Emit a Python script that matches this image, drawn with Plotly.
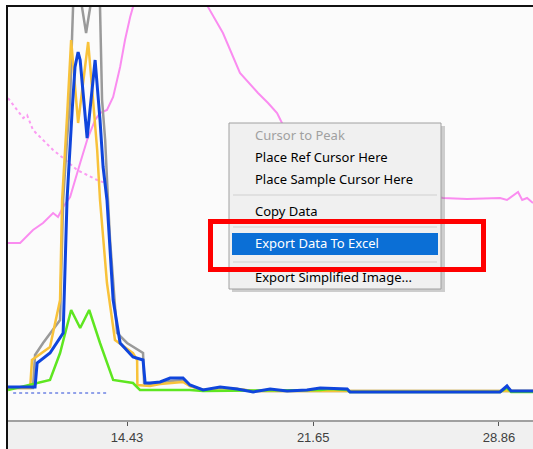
import plotly.graph_objects as go

# ---- data (x in minutes, y in signal units) ----
tick_vals = [14.43, 21.65, 28.86]
tick_text = ["14.43", "21.65", "28.86"]

gray_x = [9.81, 10.78, 10.86, 11.17, 11.83, 11.95, 12.10, 12.22, 12.30, 12.37, 12.61, 12.68, 12.84, 13.00, 13.19, 13.38, 13.46, 13.58, 13.69, 13.77, 14.04, 14.43, 15.05, 15.09, 15.32, 16.10, 16.60, 16.87, 17.38, 18.04, 18.70, 19.32, 30.18]
gray_y = [2, 2, 35, 47, 70, 190, 250, 290, 357, 410, 430, 383, 357, 383, 430, 383, 290, 250, 190, 150, 57, 47, 37, 7, 6, 9, 10, 4, 0, 2, 1, -1, -1]

orange_x = [9.81, 10.67, 10.74, 11.44, 11.83, 11.91, 12.10, 12.22, 12.26, 12.53, 12.92, 13.11, 13.27, 13.38, 13.65, 13.96, 14.66, 14.82, 14.83, 15.32, 15.71, 16.60, 16.87, 17.38, 18.04, 18.70, 19.32, 30.18]
orange_y = [2, 2, 30, 43, 90, 190, 273, 340, 350, 267, 348, 290, 240, 190, 107, 50, 37, 30, 5, 4, 6, 8, 4, 0, 2, 1, -1, -1]

green_x = [9.81, 10.94, 11.44, 11.83, 12.26, 12.61, 12.96, 13.38, 13.89, 14.66, 14.93, 16.87, 17.38, 21.92, 22.30, 22.97, 23.08, 28.90, 29.17, 29.33, 30.18]
green_y = [0, 7, 10, 37, 80, 62, 80, 47, 10, 7, 0, 0, -1, 0, 1, 0, -2, -2, 2, -2, -2]

blue_x = [9.81, 10.86, 10.94, 11.44, 11.95, 12.10, 12.30, 12.41, 12.53, 12.61, 12.88, 13.19, 13.38, 13.50, 13.65, 13.89, 14.16, 14.66, 15.05, 15.13, 15.32, 15.71, 16.10, 16.60, 16.87, 17.38, 18.04, 18.70, 19.32, 19.98, 20.64, 21.41, 21.92, 22.97, 23.08, 28.90, 29.17, 29.33, 30.18]
blue_y = [3, 3, 27, 37, 57, 190, 280, 323, 338, 330, 252, 330, 270, 223, 190, 90, 47, 33, 30, 7, 7, 8, 12, 12, 5, 0, 3, 1, -2, 1, -1, 0, 2, 1, -2, -2, 4, -1, -1]

pink_x = [9.81, 10.28, 10.78, 11.17, 11.56, 11.75, 11.95, 12.22, 12.61, 12.88, 13.19, 13.38, 13.65, 13.89, 14.16, 14.35, 14.55, 14.66, 14.93, 17.26, 17.57, 18.15, 18.81, 19.51, 19.90, 20.25, 20.44, 21.14, 23.08, 25.02, 26.69, 27.62, 28.90, 29.17, 29.60, 29.76, 29.95, 30.18]
pink_y = [147, 147, 160, 167, 177, 173, 183, 193, 227, 250, 270, 277, 280, 293, 323, 350, 373, 383, 420, 420, 383, 357, 317, 297, 287, 277, 267, 240, 215, 200, 192, 191, 192, 190, 198, 190, 192, 187]

pinkdot_x = [9.81, 10.16, 10.40, 10.55, 10.78, 11.17, 11.56, 11.95, 12.49, 12.88, 13.27, 13.58]
pinkdot_y = [292, 280, 272, 275, 260, 250, 240, 232, 220, 215, 210, 207]

base_x = [10.01, 13.65]
base_y = [-3, -3]

menu_items = ["Cursor to Peak", "Place Ref Cursor Here", "Place Sample Cursor Here",
              "Copy Data", "Export Data To Excel", "Export Simplified Image..."]

# ---- figure ----
W, H = 533, 449
L, R, T, B = 8, 0, 7, 29
PW, PH = W - L - R, H - T - B
X_RANGE = [9.81, 30.18]


def px(x):
    return (x - L) / PW


def py(y):
    return (H - B - y) / PH


fig = go.Figure()
fig.add_trace(go.Scatter(x=pinkdot_x, y=pinkdot_y, mode="lines",
                         line=dict(color="#fb9bf2", width=2, dash="dot")))
fig.add_trace(go.Scatter(x=pink_x, y=pink_y, mode="lines",
                         line=dict(color="#fa8cf0", width=2)))
fig.add_trace(go.Scatter(x=gray_x, y=gray_y, mode="lines",
                         line=dict(color="#9a9a9a", width=2.5)))
fig.add_trace(go.Scatter(x=orange_x, y=orange_y, mode="lines",
                         line=dict(color="#f8c23a", width=2.5)))
fig.add_trace(go.Scatter(x=green_x, y=green_y, mode="lines",
                         line=dict(color="#5ee620", width=2.5)))
fig.add_trace(go.Scatter(x=blue_x, y=blue_y, mode="lines",
                         line=dict(color="#0f45dc", width=3)))
fig.add_trace(go.Scatter(x=base_x, y=base_y, mode="lines",
                         line=dict(color="#2848d8", width=1, dash="3px,3px")))
# invisible helper trace so the top frame axis is drawn
fig.add_trace(go.Scatter(x=base_x, y=base_y, mode="lines", xaxis="x2",
                         line=dict(color="rgba(0,0,0,0)", width=0), hoverinfo="skip"))

shapes = []
# bottom axis strip
shapes.append(dict(type="rect", xref="paper", yref="paper", x0=0, x1=1,
                   y0=py(H), y1=py(421), fillcolor="#f0f0f0", line_width=0, layer="below"))
# black frame continuation on the left of the axis strip
shapes.append(dict(type="line", xref="paper", yref="paper", x0=px(7), x1=px(7),
                   y0=py(H), y1=py(419), line=dict(color="#111111", width=2), layer="above"))
# menu shadow
shapes.append(dict(type="rect", xref="paper", yref="paper", x0=px(232), x1=px(445),
                   y0=py(292), y1=py(126), fillcolor="rgba(120,120,120,0.35)", line_width=0, layer="above"))
# menu body
shapes.append(dict(type="rect", xref="paper", yref="paper", x0=px(229), x1=px(441),
                   y0=py(289), y1=py(123), fillcolor="#f0f0f0",
                   line=dict(color="#a0a0a0", width=1), layer="above"))
# separators
for sy in (195, 227, 262):
    shapes.append(dict(type="line", xref="paper", yref="paper", x0=px(233), x1=px(437),
                       y0=py(sy), y1=py(sy), line=dict(color="#d0d0d0", width=1), layer="above"))
# highlight
shapes.append(dict(type="rect", xref="paper", yref="paper", x0=px(232), x1=px(438),
                   y0=py(255), y1=py(233), fillcolor="#0b6fd6", line_width=0, layer="above"))
# red box
shapes.append(dict(type="rect", xref="paper", yref="paper", x0=px(210.5), x1=px(483.5),
                   y0=py(269.5), y1=py(221.5), fillcolor="rgba(0,0,0,0)",
                   line=dict(color="#ff0000", width=5), layer="above"))

item_y = [135, 157, 179, 211, 243, 277]
item_col = ["#a0a0a0", "#000000", "#000000", "#000000", "#ffffff", "#000000"]
annotations = []
for t, yy, c in zip(menu_items, item_y, item_col):
    annotations.append(dict(text=t, xref="paper", yref="paper", x=px(253), y=py(yy),
                            xanchor="left", yanchor="middle", showarrow=False,
                            font=dict(family="Noto Sans", size=13, color=c)))

fig.update_layout(
    width=W, height=H,
    margin=dict(l=L, r=R, t=T, b=B),
    paper_bgcolor="#ffffff", plot_bgcolor="#fbfbfb",
    showlegend=False,
    shapes=shapes, annotations=annotations,
    xaxis=dict(range=X_RANGE, tickvals=tick_vals, ticktext=tick_text,
               ticks="outside", ticklen=4, tickcolor="#555", tickwidth=1,
               showgrid=False, zeroline=False, showline=True, linecolor="#a0a0a0",
               linewidth=2, tickfont=dict(family="Liberation Sans", size=13, color="#404040")),
    xaxis2=dict(range=X_RANGE, overlaying="x", side="top", showline=True,
                linecolor="#111111", linewidth=2, showticklabels=False, ticks="",
                showgrid=False, zeroline=False),
    yaxis=dict(range=[-30, 383], showline=True, linecolor="#111111", linewidth=2,
               showticklabels=False, ticks="", showgrid=False, zeroline=False),
)

fig.write_html("out.html", config={"displayModeBar": False},
               post_script="document.body.style.margin='0';document.body.style.padding='0';")
